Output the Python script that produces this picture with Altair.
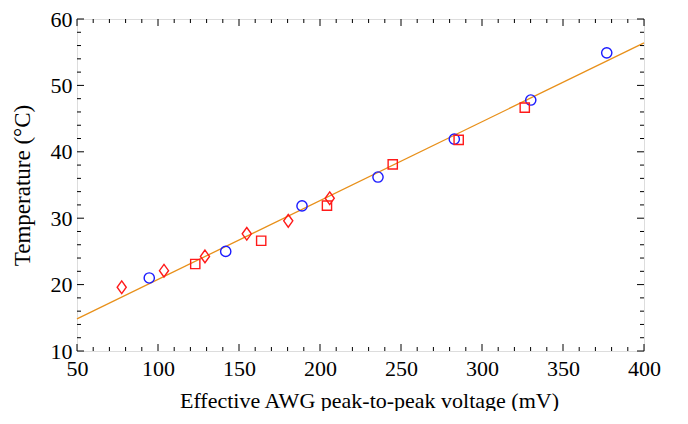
import altair as alt
import pandas as pd

# ---- data ----
circle_x = [94.6, 141.8, 188.9, 235.8, 282.9, 330.1, 377.0]
circle_y = [21.0, 25.0, 31.85, 36.2, 41.9, 47.8, 54.9]
square_x = [123.0, 163.7, 204.3, 244.9, 285.6, 326.4]
square_y = [23.1, 26.6, 31.9, 38.1, 41.8, 46.65]
diamond_x = [77.6, 103.7, 129.0, 154.8, 180.4, 206.0]
diamond_y = [19.6, 22.1, 24.25, 27.65, 29.6, 33.0]
fit_x = [50, 400]
fit_y = [14.85, 56.4]

x_major = [50, 100, 150, 200, 250, 300, 350, 400]
x_minor = [v for v in range(60, 400, 10) if v % 50 != 0]
y_major = [10, 20, 30, 40, 50, 60]
y_minor = [v for v in range(12, 60, 2) if v % 10 != 0]

W, H = 567, 332
FONT = "Liberation Serif"
RED = "#ff1a1a"
BLUE = "#1a1aff"
ORANGE = "#e8901a"

XT = "Effective AWG  peak-to-peak voltage (mV)"
YT = "Temperature  (°C)"

xs = alt.Scale(domain=[50, 400], nice=False, zero=False)
ys = alt.Scale(domain=[10, 60], nice=False, zero=False)

xaxis = alt.Axis(values=x_major, ticks=False, domain=False, grid=False,
                 labelFont=FONT, labelFontSize=22, labelColor="black",
                 labelPadding=7, labelFlush=False,
                 titleFont=FONT, titleFontSize=22, titleFontWeight="normal",
                 titleColor="black", titlePadding=11, titleX=292)
yaxis = alt.Axis(values=y_major, ticks=False, domain=False, grid=False,
                 labelFont=FONT, labelFontSize=22, labelColor="black",
                 labelPadding=5, labelFlush=False,
                 titleFont=FONT, titleFontSize=23, titleFontWeight="normal",
                 titleColor="black", titlePadding=16)

fit_df = pd.DataFrame({"x": fit_x, "y": fit_y})
line = alt.Chart(fit_df).mark_line(color=ORANGE, strokeWidth=1.3).encode(
    x=alt.X("x:Q", scale=xs, axis=xaxis, title=XT),
    y=alt.Y("y:Q", scale=ys, axis=yaxis, title=YT),
)

def pts(xv, yv, shape, color, size):
    df = pd.DataFrame({"x": xv, "y": yv})
    return alt.Chart(df).mark_point(shape=shape, filled=False, color=color,
                                    size=size, strokeWidth=1.4, opacity=1).encode(
        x=alt.X("x:Q", scale=xs, axis=xaxis, title=XT),
        y=alt.Y("y:Q", scale=ys, axis=yaxis, title=YT),
    )

circles = pts(circle_x, circle_y, "circle", BLUE, 105)
squares = pts(square_x, square_y, "square", RED, 85)
diamonds = pts(diamond_x, diamond_y, "M0,-1L0.72,0L0,1L-0.72,0Z", RED, 160)

def xticks(vals, ln):
    df = pd.DataFrame({"v": vals})
    b = alt.Chart(df).mark_rule(color="black", strokeWidth=1).encode(
        x=alt.X("v:Q", scale=xs, axis=xaxis, title=XT), y=alt.value(H), y2=alt.value(H - ln))
    t = alt.Chart(df).mark_rule(color="black", strokeWidth=1).encode(
        x=alt.X("v:Q", scale=xs, axis=xaxis, title=XT), y=alt.value(0), y2=alt.value(ln))
    return [b, t]

def yticks(vals, ln):
    df = pd.DataFrame({"v": vals})
    l = alt.Chart(df).mark_rule(color="black", strokeWidth=1).encode(
        y=alt.Y("v:Q", scale=ys, axis=yaxis, title=YT), x=alt.value(0), x2=alt.value(ln))
    r = alt.Chart(df).mark_rule(color="black", strokeWidth=1).encode(
        y=alt.Y("v:Q", scale=ys, axis=yaxis, title=YT), x=alt.value(W), x2=alt.value(W - ln))
    return [l, r]

layers = ([line] + xticks(x_major, 7) + xticks(x_minor, 4)
          + yticks(y_major, 7) + yticks(y_minor, 4) + [circles, squares, diamonds])

chart = alt.layer(*layers).properties(
    width=W, height=H,
    autosize=alt.AutoSizeParams(type="none"),
    padding={"left": 69, "top": 11, "right": 30, "bottom": 60},
).configure_view(stroke="black", strokeWidth=1.2).configure(background="white")

chart.save("out.html", embed_options={"renderer": "svg", "actions": False})
